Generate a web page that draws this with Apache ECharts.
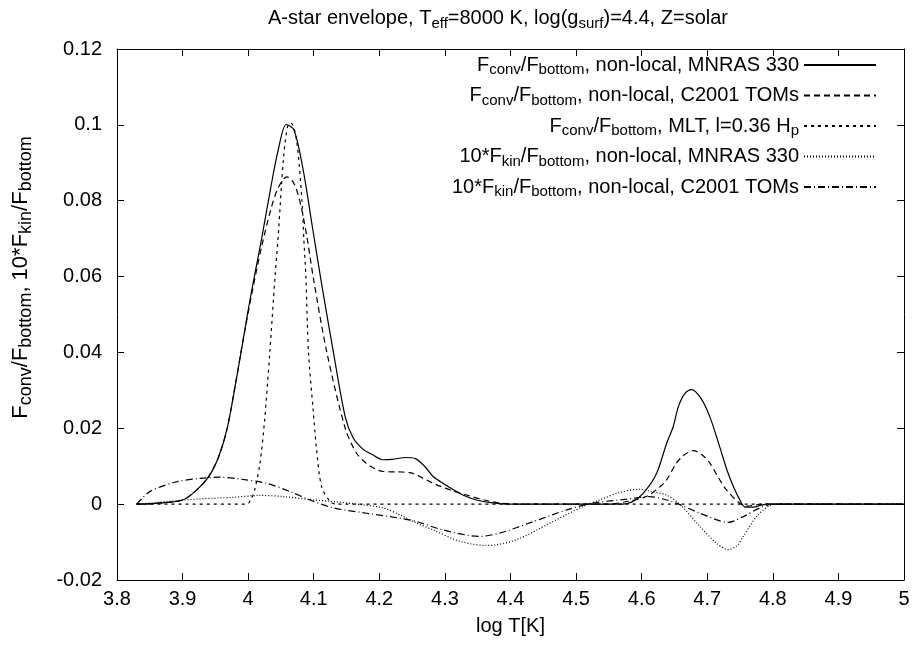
<!DOCTYPE html>
<html>
<head>
<meta charset="utf-8">
<script src="https://cdn.jsdelivr.net/npm/echarts@6/dist/echarts.min.js"></script>
<style>
  html, body { margin: 0; padding: 0; background: #fff; }
  #chart { width: 913px; height: 646px; }
</style>
</head>
<body>
<div id="chart"></div>
<script>
// data: [log T, value]
var convMnras = [
  [3.83, 0], [3.86, 0.0002], [3.9, 0.0011], [3.92, 0.0035], [3.94, 0.0073], [3.955, 0.0125],
  [3.968, 0.02], [3.98, 0.031], [3.992, 0.043], [4.005, 0.056], [4.02, 0.0695], [4.035, 0.084],
  [4.046, 0.0935], [4.058, 0.1001], [4.07, 0.0986], [4.084, 0.088], [4.098, 0.073], [4.113, 0.057],
  [4.13, 0.04], [4.148, 0.023], [4.16, 0.0175], [4.175, 0.0145], [4.19, 0.013], [4.205, 0.0117],
  [4.22, 0.0118], [4.24, 0.0123], [4.255, 0.012], [4.27, 0.0098], [4.282, 0.0073], [4.3, 0.0052],
  [4.313, 0.0038], [4.33, 0.0022], [4.348, 0.0011], [4.37, 0.0004], [4.4, 0], [4.57, 0], [4.59, 0.001],
  [4.607, 0.0038], [4.623, 0.0082], [4.638, 0.016], [4.648, 0.0204], [4.656, 0.0257], [4.666, 0.0292],
  [4.676, 0.0302], [4.69, 0.028], [4.704, 0.023], [4.719, 0.0151], [4.73, 0.009], [4.74, 0.0046],
  [4.75, 0.001], [4.757, -0.0007], [4.77, -0.0008], [4.782, -0.0003], [4.79, 0], [5, 0]
];
var convC2001 = [
  [3.83, 0], [3.86, 0.0002], [3.9, 0.0011], [3.92, 0.0035], [3.94, 0.0073], [3.955, 0.0125],
  [3.968, 0.02], [3.98, 0.031], [3.992, 0.043], [4.005, 0.055], [4.02, 0.0675], [4.035, 0.078],
  [4.046, 0.0835], [4.059, 0.0863], [4.07, 0.0845], [4.08, 0.079], [4.09, 0.07], [4.1, 0.059],
  [4.12, 0.04], [4.148, 0.02], [4.165, 0.0135], [4.18, 0.0108], [4.195, 0.0092], [4.206, 0.0086],
  [4.23, 0.0085], [4.247, 0.0083], [4.265, 0.007], [4.282, 0.0055], [4.31, 0.0036], [4.333, 0.0024],
  [4.36, 0.0011], [4.384, 0.0003], [4.41, 0], [4.55, 0], [4.577, 0.0007], [4.607, 0.002], [4.628, 0.0046],
  [4.638, 0.0064], [4.653, 0.0108], [4.665, 0.013], [4.679, 0.0141], [4.692, 0.013], [4.704, 0.0108],
  [4.717, 0.007], [4.729, 0.0038], [4.749, 0.0003], [4.76, -0.0005], [4.775, -0.0002], [4.785, 0], [5, 0]
];
var convMlt = [
  [3.83, 0], [3.998, 0], [4.005, 0.0015], [4.01, 0.0038], [4.018, 0.0108], [4.025, 0.022],
  [4.033, 0.04], [4.041, 0.06], [4.046, 0.0712], [4.054, 0.0914], [4.061, 0.1001], [4.066, 0.1003],
  [4.074, 0.0957], [4.082, 0.08], [4.085, 0.0695], [4.088, 0.06], [4.092, 0.04], [4.099, 0.025],
  [4.104, 0.015], [4.112, 0.0046], [4.125, 0.0007], [4.135, 0], [5, 0]
];
var kinMnras = [
  [3.83, 0], [3.876, 0.0007], [3.927, 0.0014], [3.977, 0.0018], [4.018, 0.0023], [4.054, 0.002],
  [4.099, 0.0011], [4.13, 0.0007], [4.17, -0.0001], [4.206, -0.001], [4.231, -0.0028], [4.257, -0.005],
  [4.282, -0.0068], [4.323, -0.0098], [4.364, -0.0109], [4.409, -0.0094], [4.46, -0.005], [4.511, -0.0006],
  [4.536, 0.0011], [4.565, 0.003], [4.597, 0.0039], [4.615, 0.0033], [4.638, 0.0024], [4.659, -0.0002],
  [4.689, -0.0059], [4.714, -0.0103], [4.732, -0.012], [4.745, -0.011], [4.755, -0.0085], [4.775, -0.0033],
  [4.795, -0.0004], [4.81, 0], [5, 0]
];
var kinC2001 = [
  [3.83, 0], [3.85, 0.0033], [3.891, 0.0059], [3.927, 0.0068], [3.957, 0.0071], [3.988, 0.0066],
  [4.028, 0.0055], [4.064, 0.0033], [4.094, 0.0011], [4.13, -0.001], [4.181, -0.0024], [4.231, -0.0037],
  [4.257, -0.0046], [4.297, -0.0068], [4.353, -0.0085], [4.384, -0.0076], [4.435, -0.0046], [4.486, -0.0015],
  [4.526, 0.0003], [4.577, 0.0013], [4.612, 0.002], [4.638, 0.0011], [4.659, -0.0002], [4.689, -0.0024],
  [4.732, -0.0048], [4.755, -0.0033], [4.78, -0.001], [4.8, 0], [5, 0]
];

var seriesNames = ["convMnras", "convC2001", "convMlt", "kinMnras", "kinC2001"];
var legendLabels = {
  convMnras: "F{sub|conv}/F{sub|bottom}, non-local, MNRAS 330",
  convC2001: "F{sub|conv}/F{sub|bottom}, non-local, C2001 TOMs",
  convMlt: "F{sub|conv}/F{sub|bottom}, MLT, l=0.36 H{sub|p}",
  kinMnras: "10*F{sub|kin}/F{sub|bottom}, non-local, MNRAS 330",
  kinC2001: "10*F{sub|kin}/F{sub|bottom}, non-local, C2001 TOMs"
};

var FONT = "Liberation Sans";
function sub(size, drop) {
  return { fontFamily: FONT, fontSize: size, color: "#000", padding: [drop, 0, 0, 0] };
}

function mkLine(name, data, dash) {
  return {
    name: name,
    type: "line",
    data: data,
    smooth: 0.3,
    symbol: "none",
    xAxisIndex: 0,
    yAxisIndex: 0,
    lineStyle: { color: "#000", width: 1.2, type: dash },
    itemStyle: { color: "#000" }
  };
}

var chart = echarts.init(document.getElementById("chart"), null, { renderer: "canvas" });
var option = {
  backgroundColor: "#fff",
  animation: false,
  title: {
    text: "A-star envelope, T{sub|eff}=8000 K, log(g{sub|surf})=4.4, Z=solar",
    left: 263,
    top: 1,
    textStyle: {
      fontFamily: FONT, fontSize: 20, fontWeight: "normal", color: "#000",
      rich: { sub: sub(15, 10) }
    }
  },
  legend: {
    orient: "vertical",
    right: 31,
    top: 50,
    align: "right",
    itemWidth: 72,
    itemHeight: 12,
    itemGap: 8,
    data: seriesNames,
    itemStyle: { opacity: 0 },
    formatter: function (name) { return legendLabels[name]; },
    textStyle: {
      fontFamily: FONT, fontSize: 20, color: "#000",
      rich: { sub: sub(15, 10) }
    }
  },
  grid: { left: 117, right: 9, top: 49, bottom: 66, containLabel: false },
  xAxis: [
    {
      type: "value", min: 3.8, max: 5, interval: 0.1,
      name: "log T[K]", nameLocation: "middle", nameGap: 36,
      nameTextStyle: { fontFamily: FONT, fontSize: 20, color: "#000" },
      axisLine: { show: true, onZero: false, lineStyle: { color: "#000", width: 1 } },
      axisTick: { inside: true, length: 7, lineStyle: { color: "#000" } },
      axisLabel: {
        margin: 9, fontFamily: FONT, fontSize: 20, color: "#000",
        formatter: function (v) { return String(parseFloat(v.toFixed(1))); }
      },
      splitLine: { show: false }
    },
    {
      type: "value", position: "top", min: 3.8, max: 5, interval: 0.1,
      axisLine: { show: true, onZero: false, lineStyle: { color: "#000", width: 1 } },
      axisTick: { inside: true, length: 7, lineStyle: { color: "#000" } },
      axisLabel: { show: false },
      splitLine: { show: false }
    }
  ],
  yAxis: [
    {
      type: "value", min: -0.02, max: 0.12, interval: 0.02,
      name: "F{sub|conv}/F{sub|bottom}, 10*F{sub|kin}/F{sub|bottom}",
      nameLocation: "middle", nameRotate: 90, nameGap: 82,
      nameTextStyle: {
        fontFamily: FONT, fontSize: 22, color: "#000", padding: [0, 0, 0, 74],
        rich: { sub: sub(18, 11) }
      },
      axisLine: { show: true, onZero: false, lineStyle: { color: "#000", width: 1 } },
      axisTick: { inside: true, length: 7, lineStyle: { color: "#000" } },
      axisLabel: {
        margin: 15, fontFamily: FONT, fontSize: 20, color: "#000",
        formatter: function (v) { return String(parseFloat(v.toFixed(2))); }
      },
      splitLine: { show: false }
    },
    {
      type: "value", position: "right", min: -0.02, max: 0.12, interval: 0.02,
      axisLine: { show: true, onZero: false, lineStyle: { color: "#000", width: 1 } },
      axisTick: { inside: true, length: 7, lineStyle: { color: "#000" } },
      axisLabel: { show: false },
      splitLine: { show: false }
    }
  ],
  series: [
    mkLine("convMnras", convMnras, "solid"),
    mkLine("convC2001", convC2001, [6, 4]),
    mkLine("convMlt", convMlt, [3, 4]),
    mkLine("kinMnras", kinMnras, [1, 2]),
    mkLine("kinC2001", kinC2001, [7, 3, 1, 3])
  ]
};
chart.setOption(option);
</script>
</body>
</html>
